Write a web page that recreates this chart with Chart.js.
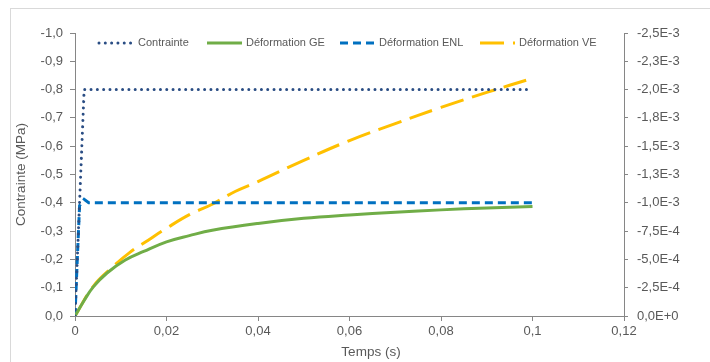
<!DOCTYPE html>
<html>
<head>
<meta charset="utf-8">
<script src="https://cdn.jsdelivr.net/npm/chart.js@4.4.1/dist/chart.umd.min.js"></script>
<style>
    body { margin: 0; background: #ffffff; }
    #cadre { position: absolute; left: 10px; top: 8px; width: 720px; height: 380px;
             border-left: 1px solid #d9d9d9; border-top: 1px solid #d9d9d9; }
    #zone { position: absolute; left: 0; top: 0; width: 710px; height: 362px; }
</style>
</head>
<body>
<div id="cadre"></div>
<div id="zone"><canvas id="graphe" width="710" height="362"></canvas></div>
<script>
// valeurs
var tempsContrainte = [0, 0.001, 0.002, 0.1];
var contrainte = [0, -0.4, -0.8, -0.8];

var tempsGE = [0, 0.002, 0.004, 0.007, 0.011, 0.015, 0.02, 0.025, 0.03, 0.04, 0.05, 0.06, 0.07, 0.08, 0.09, 0.1];
var deformationGE = [0, -1.375e-4, -2.575e-4, -3.8e-4, -4.95e-4, -5.7e-4, -6.55e-4, -7.1e-4, -7.575e-4,
    -8.175e-4, -8.625e-4, -8.925e-4, -9.175e-4, -9.375e-4, -9.55e-4, -9.675e-4];

var tempsENL = [0, 0.0005, 0.001, 0.002, 0.003, 0.1];
var deformationENL = [0, -5.0e-4, -9.75e-4, -1.03e-3, -1.0e-3, -1.0e-3];

var tempsVE = [0, 0.004, 0.008, 0.012, 0.016, 0.02, 0.025, 0.03, 0.035, 0.04, 0.05, 0.06, 0.07, 0.08, 0.09, 0.1];
var deformationVE = [0, -2.625e-4, -4.25e-4, -5.625e-4, -6.7e-4, -7.75e-4, -8.95e-4, -9.875e-4, -1.1e-3,
    -1.1875e-3, -1.375e-3, -1.55e-3, -1.7e-3, -1.8425e-3, -1.975e-3, -2.1e-3];

var xTicks = [0, 0.02, 0.04, 0.06, 0.08, 0.1, 0.12];
var xLabels = ['0', '0,02', '0,04', '0,06', '0,08', '0,1', '0,12'];
var yTicks = [0, -0.1, -0.2, -0.3, -0.4, -0.5, -0.6, -0.7, -0.8, -0.9, -1.0];
var yLabels = ['0,0', '-0,1', '-0,2', '-0,3', '-0,4', '-0,5', '-0,6', '-0,7', '-0,8', '-0,9', '-1,0'];
var y1Ticks = [0, -2.5e-4, -5e-4, -7.5e-4, -1e-3, -1.25e-3, -1.5e-3, -1.75e-3, -2e-3, -2.25e-3, -2.5e-3];
var y1Labels = ['0,0E+0', '-2,5E-4', '-5,0E-4', '-7,5E-4', '-1,0E-3', '-1,3E-3', '-1,5E-3', '-1,8E-3', '-2,0E-3', '-2,3E-3', '-2,5E-3'];

var ordreLegende = [0, 1, 2, 3];
var legendeX = [99, 207, 340, 480];

function paires(t, v) {
    var res = [];
    for (var i = 0; i < t.length; i++) {
        res.push({ x: t[i], y: v[i] });
    }
    return res;
}

function fixerTicks(valeurs) {
    return function (scale) {
        scale.ticks = valeurs.map(function (v) { return { value: v }; });
    };
}

var police = '"Liberation Sans", Arial, sans-serif';
var gris = '#595959';
var axe = '#868686';

var legendeInterne = {
    id: 'legendeInterne',
    afterDraw: function (chart) {
        var ctx = chart.ctx;
        var y = 43;
        ctx.save();
        ctx.font = '11px ' + police;
        ctx.textBaseline = 'middle';
        ordreLegende.forEach(function (idx, k) {
            var ds = chart.data.datasets[idx];
            var x = legendeX[k];
            ctx.strokeStyle = ds.borderColor;
            ctx.lineWidth = ds.borderWidth;
            ctx.lineCap = ds.borderCapStyle || 'butt';
            ctx.setLineDash(ds.borderDash || []);
            ctx.beginPath();
            ctx.moveTo(x, y);
            ctx.lineTo(x + 35, y);
            ctx.stroke();
            ctx.setLineDash([]);
            ctx.fillStyle = gris;
            ctx.fillText(ds.label, x + 39, y);
        });
        // titre de l'axe des temps
        ctx.font = '13.5px ' + police;
        ctx.textAlign = 'center';
        ctx.fillText('Temps (s)', 371, 352);
        ctx.restore();
    }
};

new Chart(document.getElementById('graphe'), {
    type: 'scatter',
    data: {
        datasets: [{
            label: 'Contrainte',
            data: paires(tempsContrainte, contrainte),
            yAxisID: 'y',
            showLine: true,
            borderColor: '#2a4d84',
            borderWidth: 3,
            borderDash: [0.01, 6.3],
            borderCapStyle: 'round',
            pointRadius: 0
        }, {
            label: 'Déformation GE',
            data: paires(tempsGE, deformationGE),
            yAxisID: 'y1',
            showLine: true,
            borderColor: '#70ad47',
            borderWidth: 3,
            tension: 0.4,
            pointRadius: 0
        }, {
            label: 'Déformation ENL',
            data: paires(tempsENL, deformationENL),
            yAxisID: 'y1',
            showLine: true,
            borderColor: '#0070c0',
            borderWidth: 3,
            borderDash: [8, 5],
            pointRadius: 0
        }, {
            label: 'Déformation VE',
            data: paires(tempsVE, deformationVE),
            yAxisID: 'y1',
            showLine: true,
            borderColor: '#ffc000',
            borderWidth: 3,
            borderDash: [24, 9],
            tension: 0.4,
            pointRadius: 0
        }]
    },
    options: {
        responsive: false,
        animation: false,
        layout: { padding: { top: 33, left: 0, right: 0, bottom: 0 } },
        plugins: {
            legend: { display: false },
            tooltip: { enabled: false }
        },
        scales: {
            x: {
                type: 'linear',
                min: 0,
                max: 0.12,
                afterBuildTicks: fixerTicks(xTicks),
                afterFit: function (s) { s.height = 46; },
                ticks: {
                    color: gris,
                    font: { family: police, size: 13 },
                    padding: 3,
                    callback: function (v, i) { return xLabels[i]; }
                },
                grid: { drawOnChartArea: false, drawTicks: true, tickLength: 5, tickColor: axe },
                border: { color: axe, width: 1 }
            },
            y: {
                position: 'left',
                min: -1,
                max: 0,
                reverse: true,
                afterBuildTicks: fixerTicks(yTicks),
                afterFit: function (s) { s.width = 75; },
                ticks: {
                    color: gris,
                    font: { family: police, size: 13 },
                    padding: 7,
                    callback: function (v, i) { return yLabels[i]; }
                },
                title: {
                    display: true,
                    text: 'Contrainte (MPa)',
                    color: gris,
                    font: { family: police, size: 13.5 },
                    padding: { top: 13, bottom: 0 }
                },
                grid: { drawOnChartArea: false, drawTicks: true, tickLength: 5, tickColor: axe },
                border: { color: axe, width: 1 }
            },
            y1: {
                position: 'right',
                min: -0.0025,
                max: 0,
                reverse: true,
                afterBuildTicks: fixerTicks(y1Ticks),
                afterFit: function (s) { s.width = 86; },
                ticks: {
                    color: gris,
                    font: { family: police, size: 13 },
                    padding: 9,
                    callback: function (v, i) { return y1Labels[i]; }
                },
                grid: { drawOnChartArea: false, drawTicks: true, tickLength: 4, tickColor: axe },
                border: { color: axe, width: 1 }
            }
        }
    },
    plugins: [legendeInterne]
});
</script>
</body>
</html>
